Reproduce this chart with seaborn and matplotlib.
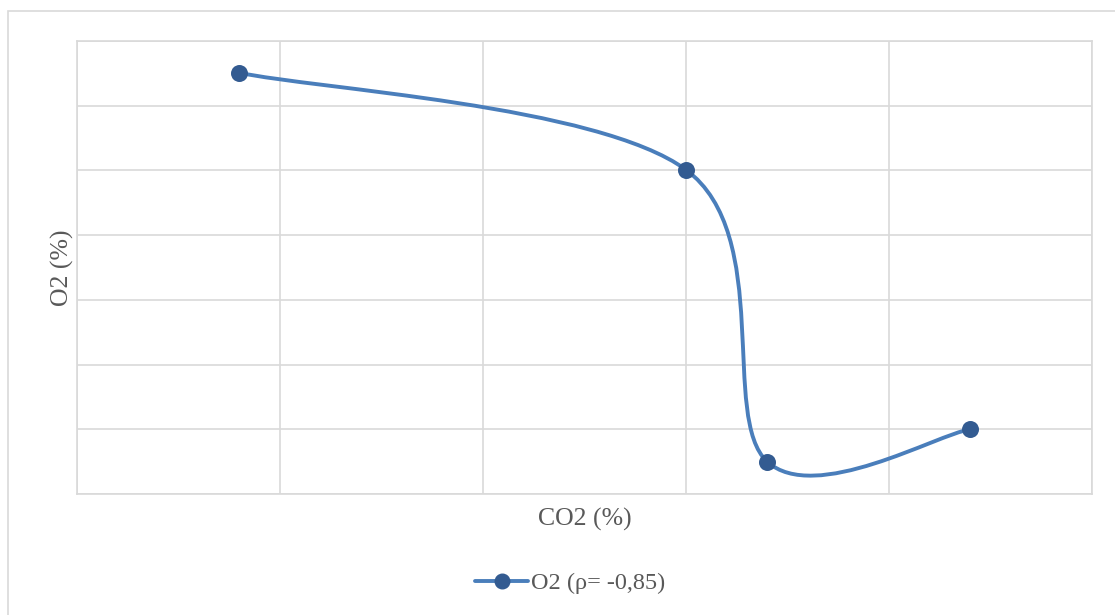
import numpy as np
import pandas as pd
import matplotlib
matplotlib.use("Agg")
import matplotlib.pyplot as plt
from matplotlib.path import Path
from matplotlib.patches import PathPatch, Rectangle
from matplotlib.lines import Line2D
import seaborn as sns

# values (no tick labels shown, so grid units)
co2 = [0.8, 3.0, 3.4, 4.4]
o2 = [6.51, 5.01, 0.5, 1.0]
series_label = "O2 (ρ= -0,85)"
x_title = "CO2 (%)"
y_title = "O2 (%)"

LINE = "#4a7ebb"
MARK = "#335b91"
GRID = "#d9d9d9"
TEXT = "#595959"

sns.set_style("white")
plt.rcParams['font.family'] = ['Liberation Serif', 'DejaVu Serif']

df = pd.DataFrame({"co2": co2, "o2": o2})

fig = plt.figure(figsize=(11.15, 6.15), dpi=100)
ax = fig.add_axes([77 / 1115, 121 / 615, 1015 / 1115, 453 / 615])

# outer chart-area border (runs off the right and bottom edges)
fig.patches.append(Rectangle((8 / 1115, -0.1), 1.2, 0.1 + 604 / 615,
                             transform=fig.transFigure, fill=False,
                             edgecolor=GRID, linewidth=1.2, zorder=0))


def smooth_path(xs, ys):
    # Excel-style smoothed line: cubic bezier, control points at 1/6 tangent
    pts = np.column_stack([xs, ys]).astype(float)
    n = len(pts)
    verts = [pts[0]]
    codes = [Path.MOVETO]
    for i in range(n - 1):
        p0 = pts[i - 1] if i > 0 else pts[i]
        p1 = pts[i]
        p2 = pts[i + 1]
        p3 = pts[i + 2] if i + 2 < n else pts[i + 1]
        c1 = p1 + (p2 - p0) / 6
        c2 = p2 - (p3 - p1) / 6
        verts += [c1, c2, p2]
        codes += [Path.CURVE4] * 3
    return Path(verts, codes)


ax.add_patch(PathPatch(smooth_path(df.co2, df.o2), fill=False,
                       edgecolor=LINE, linewidth=2.8, capstyle='round',
                       zorder=3))
sns.scatterplot(data=df, x="co2", y="o2", ax=ax, color=MARK, s=150,
                edgecolor=MARK, linewidth=0, zorder=4, legend=False)

ax.set_xlim(0, 5)
ax.set_ylim(0, 7)
ax.set_xticks(range(0, 6))
ax.set_yticks(range(0, 8))
ax.grid(True, color=GRID, linewidth=1.2)
ax.tick_params(length=0, pad=0, labelbottom=False, labelleft=False)
for s in ax.spines.values():
    s.set_color(GRID)
    s.set_linewidth(1.2)

ax.set_xlabel(x_title, fontsize=18.5, color=TEXT, labelpad=10)
ax.set_ylabel(y_title, fontsize=18.5, color=TEXT, labelpad=2)

handle = Line2D([], [], color=LINE, linewidth=2.8, marker='o',
                markersize=10.5, markerfacecolor=MARK, markeredgecolor=MARK)
fig.legend([handle], [series_label], loc='center',
           bbox_to_anchor=(570 / 1115, 1 - 583 / 615), frameon=False,
           fontsize=17.5, labelcolor=TEXT, handlelength=2.2,
           handletextpad=0.1)

fig.savefig("out.png", dpi=100, facecolor="white")
